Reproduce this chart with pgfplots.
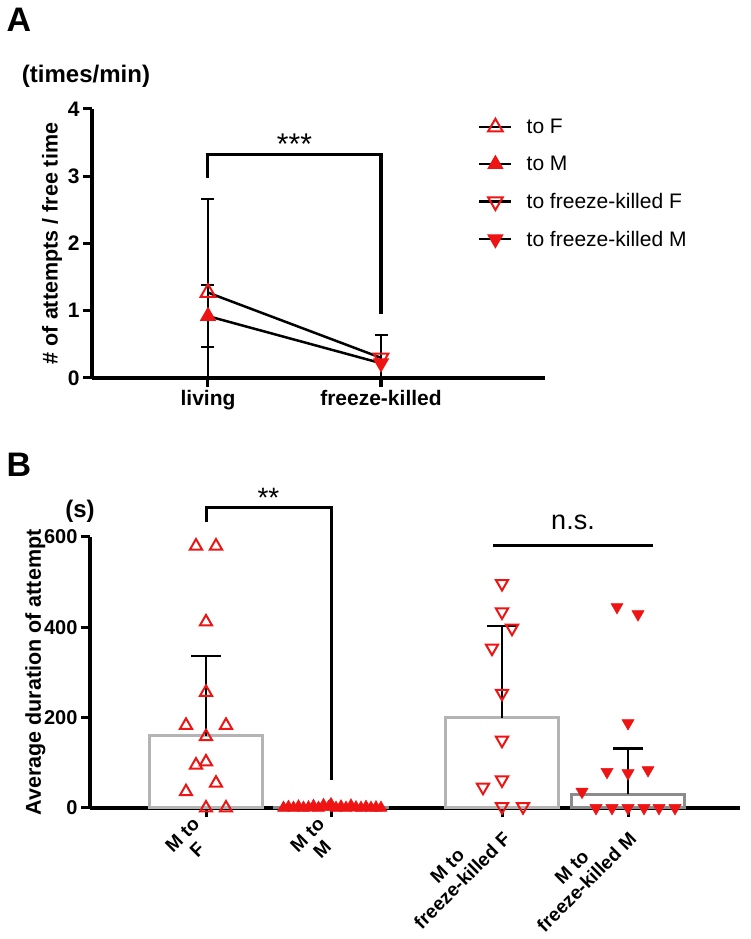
\documentclass[border=0pt]{standalone}
\usepackage{fontspec}
\setmainfont{Liberation Sans}
\usepackage{pgfplots}
\pgfplotsset{compat=1.18}
\definecolor{myred}{RGB}{238,20,20}
\definecolor{lgray}{RGB}{180,180,180}
\definecolor{dgray}{RGB}{140,140,140}
\begin{document}
\begin{tikzpicture}[x=1pt,y=1pt]
\path[use as bounding box] (0,0) rectangle (750,939);
\node[font=\fontsize{34}{38}\selectfont\bfseries] at (19,919) {A};
\node[font=\fontsize{34}{38}\selectfont\bfseries] at (19,474) {B};
\node[font=\fontsize{24}{28}\selectfont\bfseries] at (86,863) {(times/min)};
\node[font=\fontsize{24}{28}\selectfont\bfseries] at (80,428) {(s)};

% ---------------- Panel A ----------------
\begin{axis}[
  at={(92pt,561pt)}, anchor=south west,
  scale only axis, width=453pt, height=269pt,
  xmin=0.3295, xmax=2.948, ymin=0, ymax=4,
  clip=false,
  axis lines=left, axis line style={line width=3.5pt, -},
  xtick={1,2}, xticklabels={living,freeze-killed},
  ytick={0,1,2,3,4},
  tick align=outside, major tick length=9pt,
  tick style={line width=3pt, black},
  /pgf/number format/assume math mode=true,
  tick label style={font=\fontsize{21}{25}\selectfont\bfseries},
  ylabel={\# of attempts / free time},
  ylabel style={at={(axis description cs:-0.088,0.5)}, anchor=center, font=\fontsize{21.5}{25}\selectfont\bfseries},
  legend style={at={(axis description cs:0.852,0.97)}, anchor=north west, draw=none, fill=none,
    font=\fontsize{21}{25}\selectfont, row sep=17pt, inner sep=0pt, cells={anchor=west}},
  legend image code/.code={\draw[#1, mark repeat=2, mark phase=2] plot coordinates {(0pt,0pt)(16pt,0pt)(32pt,0pt)};
    \path (0pt,0pt) (44pt,0pt);},
]
\addplot[black, line width=2.5pt, forget plot] coordinates {(1,1.27) (2,0.30)};
\addplot[black, line width=2.5pt, forget plot] coordinates {(1,0.92) (2,0.22)};
\addplot[draw=none, forget plot, error bars/.cd, y dir=both, y explicit,
  error bar style={draw=black, line width=2.5pt},
  error mark options={draw=black, line width=2.5pt, mark size=6.5pt, rotate=90}]
  coordinates {(1,1.27) += (0,1.39) -= (0,1.27)};
\addplot[draw=none, forget plot, error bars/.cd, y dir=both, y explicit,
  error bar style={draw=black, line width=2.5pt},
  error mark options={draw=black, line width=2.5pt, mark size=6.5pt, rotate=90}]
  coordinates {(1,0.92) +- (0,0.46)};
\addplot[draw=none, forget plot, error bars/.cd, y dir=both, y explicit,
  error bar style={draw=black, line width=2.5pt},
  error mark options={draw=black, line width=2.5pt, mark size=6.5pt, rotate=90}]
  coordinates {(2,0.30) += (0,0.34) -= (0,0.30)};
\addplot[black, line width=2.5pt, mark=triangle, mark size=8.5pt, mark options={myred, line width=2pt, solid}]
  coordinates {(1,1.27)};
\addlegendentry{to F}
\addplot[black, line width=2.5pt, mark=triangle*, mark size=8.5pt, mark options={myred, fill=myred, line width=1pt, solid}]
  coordinates {(1,0.92)};
\addlegendentry{to M}
\addplot[black, line width=2.5pt, mark=triangle, mark size=8.5pt, mark options={myred, line width=2pt, solid, rotate=180}]
  coordinates {(2,0.30)};
\addlegendentry{to freeze-killed F}
\addplot[black, line width=2.5pt, mark=triangle*, mark size=8.5pt, mark options={myred, fill=myred, line width=1pt, solid, rotate=180}]
  coordinates {(2,0.22)};
\addlegendentry{to freeze-killed M}
% significance bracket
\addplot[black, line width=3pt, forget plot] coordinates {(1,2.98) (1,3.32) (2,3.32) (2,0.95)};
\node[font=\fontsize{30}{34}\selectfont] at (axis cs:1.5,3.48) {***};
\end{axis}

% ---------------- Panel B ----------------
\begin{axis}[
  at={(90pt,131pt)}, anchor=south west,
  scale only axis, width=650pt, height=271pt,
  xmin=0.072, xmax=5.272, ymin=0, ymax=600,
  clip=false,
  axis lines=left, axis line style={line width=3.5pt, -},
  xtick={1,2,3.368,4.376},
  xticklabels={{M to\\F},{M to\\M},{M to\\freeze-killed F},{M to\\freeze-killed M}},
  ytick={0,200,400,600},
  tick align=outside, major tick length=9pt,
  tick style={line width=3pt, black},
  /pgf/number format/assume math mode=true,
  tick label style={font=\fontsize{20}{24}\selectfont\bfseries},
  xticklabel shift=9pt,
  xticklabel style={rotate=45, anchor=east, align=center, font=\fontsize{19}{21}\selectfont\bfseries},
  ylabel={Average duration of attempt},
  ylabel style={at={(axis description cs:-0.084,0.5)}, anchor=center, font=\fontsize{21.5}{25}\selectfont\bfseries},
]
% bars
\addplot[ybar, bar width=0.9, bar shift=0pt, draw=lgray, fill=white, line width=3pt, forget plot]
  coordinates {(1,160) (3.368,200)};
\addplot[ybar, bar width=0.9, bar shift=0pt, draw=dgray, fill=white, line width=3pt, forget plot]
  coordinates {(2,1) (4.376,30)};
% error bars (mean + SD)
\addplot[draw=none, forget plot, error bars/.cd, y dir=plus, y explicit,
  error bar style={draw=black, line width=2.5pt},
  error mark options={draw=black, line width=2.5pt, mark size=15pt, rotate=90}]
  coordinates {(1,160) +- (0,177) (3.368,200) +- (0,203) (4.376,30) +- (0,102)};
% M to F
\addplot[only marks, mark=triangle, mark size=7pt, mark options={myred, line width=2pt}]
  coordinates {(0.92,580) (1.08,580) (1.0,412) (1.0,256) (0.84,183) (1.16,183) (1.0,158)
  (1.0,102) (0.92,95) (1.08,55) (0.84,36) (1.0,0) (1.16,0)};
% M to M
\addplot[only marks, mark=triangle*, mark size=7pt, mark options={myred, fill=myred, line width=0.5pt}]
  coordinates {(1.62,0) (1.66,2) (1.70,0) (1.74,3) (1.78,0) (1.82,1) (1.86,4) (1.90,0) (1.94,6)
  (1.98,2) (2.00,8) (2.04,0) (2.08,3) (2.12,0) (2.16,5) (2.20,1) (2.24,0) (2.28,2) (2.32,0) (2.36,1) (2.40,0)};
% M to freeze-killed F
\addplot[only marks, mark=triangle, mark size=7pt, mark options={myred, line width=2pt, rotate=180}]
  coordinates {(3.368,497) (3.368,434) (3.448,398) (3.288,354) (3.368,254) (3.368,150)
  (3.368,62) (3.216,46) (3.368,3) (3.536,3)};
% M to freeze-killed M
\addplot[only marks, mark=triangle*, mark size=7pt, mark options={myred, fill=myred, line width=0.5pt, rotate=180}]
  coordinates {(4.288,445) (4.456,429) (4.376,188) (4.208,80) (4.376,77) (4.536,84) (4.008,36)
  (4.12,0) (4.248,0) (4.376,0) (4.504,0) (4.624,0) (4.752,0)};
% significance
\addplot[black, line width=3pt, forget plot] coordinates {(1,634) (1,665) (2,665) (2,62)};
\node[font=\fontsize{28}{30}\selectfont] at (axis cs:1.5,686) {**};
\addplot[black, line width=3pt, forget plot] coordinates {(3.296,581) (4.576,581)};
\node[font=\fontsize{27}{30}\selectfont] at (axis cs:3.936,632) {n.s.};
\end{axis}
\end{tikzpicture}
\end{document}
